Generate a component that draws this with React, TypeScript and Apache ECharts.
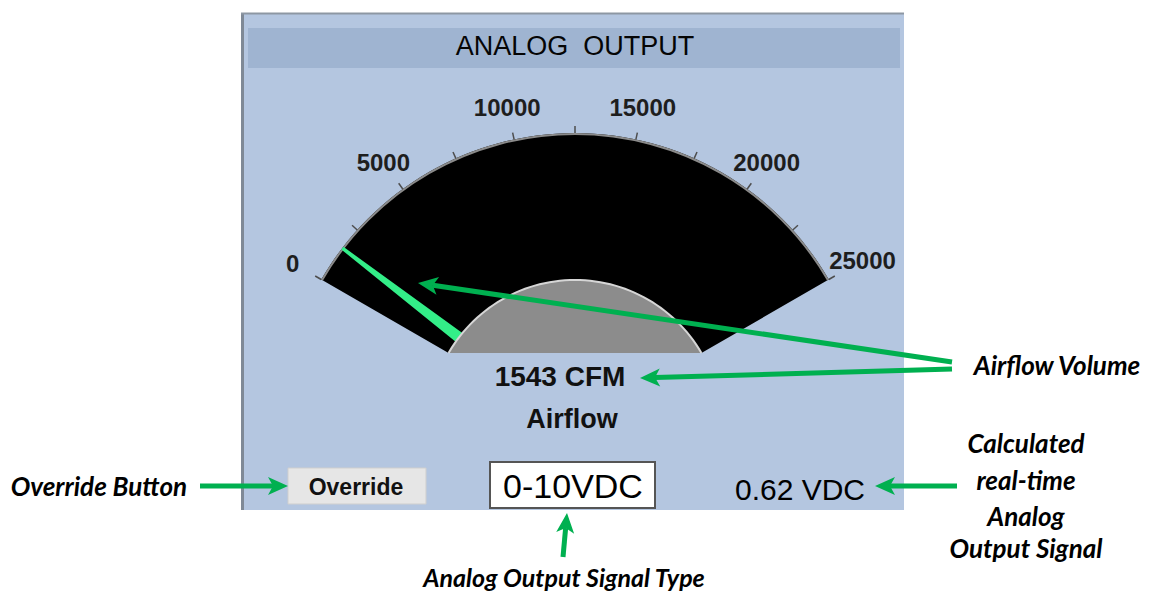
import React, { useEffect, useRef } from 'react';
import * as echarts from 'echarts';

// ---- data ----
const gaugeMin = 0;
const gaugeMax = 25000;
const tickStep = 2500;
const tickLabels = [0, 5000, 10000, 15000, 20000, 25000];
const airflowValue = 1543;
const airflowUnit = 'CFM';
const airflowName = 'Airflow';
const signalType = '0-10VDC';
const signalMaxVolts = 10;
const panelTitle = 'ANALOG  OUTPUT';
const buttonLabel = 'Override';
const calloutAirflow = 'Airflow Volume';
const calloutSignal = ['Calculated', 'real-time', 'Analog', 'Output Signal'];
const calloutButton = 'Override Button';
const calloutType = 'Analog Output Signal Type';

// ---- geometry / style ----
const CX = 575;
const CY = 426;
const R = 293;
const RIN = 146;
const START = 150;
const END = 30;
const GREEN = '#00b050';
const LABEL_FONT = 'Liberation Sans, Arial, sans-serif';
const CALLOUT_FONT = 'Lato, sans-serif';

function angleOf(v: number) {
  return START - ((START - END) * (v - gaugeMin)) / (gaugeMax - gaugeMin);
}
function polar(r: number, deg: number): [number, number] {
  const a = (deg * Math.PI) / 180;
  return [CX + r * Math.cos(a), CY - r * Math.sin(a)];
}

function arrow(x1: number, y1: number, x2: number, y2: number) {
  const dx = x2 - x1;
  const dy = y2 - y1;
  const len = Math.hypot(dx, dy);
  const ux = dx / len;
  const uy = dy / len;
  const px = -uy;
  const py = ux;
  const hl = 20;
  const hw = 9;
  const notch = 5;
  const bx = x2 - ux * hl;
  const by = y2 - uy * hl;
  const nx = x2 - ux * (hl - notch);
  const ny = y2 - uy * (hl - notch);
  return [
    {
      type: 'line',
      z: 100,
      shape: { x1, y1, x2: nx, y2: ny },
      style: { stroke: GREEN, lineWidth: 5 },
    },
    {
      type: 'polygon',
      z: 100,
      shape: {
        points: [
          [x2, y2],
          [bx + px * hw, by + py * hw],
          [nx, ny],
          [bx - px * hw, by - py * hw],
        ],
      },
      style: { fill: GREEN },
    },
  ];
}

function text(t: string, x: number, y: number, opts: any = {}) {
  return {
    type: 'text',
    z: opts.z ?? 50,
    style: {
      text: t,
      x,
      y,
      align: 'center',
      verticalAlign: 'middle',
      fill: opts.fill ?? '#111',
      fontSize: opts.fontSize ?? 22,
      fontWeight: opts.fontWeight ?? 'bold',
      fontStyle: opts.fontStyle ?? 'normal',
      fontFamily: opts.fontFamily ?? LABEL_FONT,
    },
  };
}

export default function App() {
  const ref = useRef<HTMLDivElement>(null);

  useEffect(() => {
    if (!ref.current) return;
    const chart = echarts.init(ref.current, undefined, { renderer: 'svg' });

    // gray hub segment (circle of radius RIN above chord between gauge ends)
    const hubPts: [number, number][] = [];
    for (let a = START; a >= END - 0.001; a -= 2) hubPts.push(polar(RIN, a));

    const labelEls = tickLabels.map((v) => {
      const [x, y] = polar(v === gaugeMax ? 332 : 326, angleOf(v));
      return text(String(v), x, y, { fontSize: 24, fill: '#1e1e1e', z: 40 });
    });

    const vdc = ((airflowValue - gaugeMin) / (gaugeMax - gaugeMin)) * signalMaxVolts;
    const callout = { fontSize: 26, fontStyle: 'italic', fontFamily: CALLOUT_FONT, fill: '#000' };

    const graphics: any[] = [
      // panel
      {
        type: 'rect',
        z: -10,
        shape: { x: 241, y: 13, width: 663, height: 497 },
        style: { fill: '#b4c6e0' },
      },
      {
        type: 'line',
        z: -9,
        shape: { x1: 242.5, y1: 13, x2: 242.5, y2: 510 },
        style: { stroke: '#7f8996', lineWidth: 3 },
      },
      {
        type: 'line',
        z: -9,
        shape: { x1: 241, y1: 13.5, x2: 904, y2: 13.5 },
        style: { stroke: '#8d97a3', lineWidth: 2 },
      },
      {
        type: 'rect',
        z: -8,
        shape: { x: 248, y: 28, width: 652, height: 40 },
        style: { fill: '#9fb4d1' },
      },
      text(panelTitle, 575, 46, { fontSize: 27, fontWeight: 'normal', fill: '#050505' }),
      // hub
      {
        type: 'polygon',
        z: 5,
        shape: { points: hubPts },
        style: { fill: '#8c8c8c' },
      },
      {
        type: 'polyline',
        z: 6,
        shape: { points: hubPts },
        style: { stroke: '#d6d6d6', lineWidth: 2, fill: null },
      },
      ...labelEls,
      // bottom controls
      {
        type: 'rect',
        z: 10,
        shape: { x: 288, y: 468, width: 138, height: 36 },
        style: { fill: '#e6e6e6', stroke: '#cfcfcf', lineWidth: 1 },
      },
      text(buttonLabel, 356, 487, { fontSize: 23, z: 11 }),
      {
        type: 'rect',
        z: 10,
        shape: { x: 490, y: 462, width: 165, height: 46 },
        style: { fill: '#ffffff', stroke: '#555555', lineWidth: 2 },
      },
      text(signalType, 573, 486, { fontSize: 34, fontWeight: 'normal', z: 11, fill: '#000' }),
      text(`${vdc.toFixed(2)} VDC`, 800, 489, { fontSize: 30, fontWeight: 'normal', z: 11, fill: '#000' }),
      // callouts
      text(calloutAirflow, 1057, 365, callout),
      text(calloutSignal[0], 1026, 443, callout),
      text(calloutSignal[1], 1026, 480, callout),
      text(calloutSignal[2], 1026, 516, callout),
      text(calloutSignal[3], 1026, 548, callout),
      text(calloutButton, 99, 486, callout),
      text(calloutType, 564, 577, { ...callout, fontSize: 25 }),
      ...arrow(952, 362, 418, 283),
      ...arrow(952, 369, 640, 378),
      ...arrow(200, 486, 288, 486),
      ...arrow(957, 486, 875, 486),
      ...arrow(563, 557, 567, 513),
    ];

    const splitNumber = (gaugeMax - gaugeMin) / tickStep;

    chart.setOption({
      animation: false,
      backgroundColor: '#ffffff',
      graphic: { elements: graphics },
      series: [
        {
          type: 'gauge',
          z: 2,
          center: [CX, CY],
          radius: R,
          startAngle: START,
          endAngle: END,
          min: gaugeMin,
          max: gaugeMax,
          axisLine: { show: true, roundCap: false, lineStyle: { width: R - RIN, color: [[1, '#000000']] } },
          axisTick: { show: false },
          splitLine: { show: false },
          axisLabel: { show: false },
          pointer: { show: false },
          anchor: { show: false },
          title: { show: false },
          detail: { show: false },
          data: [],
        },
        {
          type: 'gauge',
          z: 3,
          center: [CX, CY],
          radius: R,
          startAngle: START,
          endAngle: END,
          min: gaugeMin,
          max: gaugeMax,
          splitNumber,
          axisLine: { show: true, roundCap: false, lineStyle: { width: 2, color: [[1, '#8a8a8a']] } },
          axisTick: { show: false },
          splitLine: { show: true, length: 7, distance: -9, lineStyle: { color: '#4d4d4d', width: 1.5 } },
          axisLabel: { show: false },
          pointer: {
            show: true,
            icon: 'path://M3.8,0 L7.2,0 L11,50 L0,50 Z M5.5,100 L5.5,100.01',
            length: '100%',
            width: 11,
            offsetCenter: [0, 0],
            keepAspect: false,
            itemStyle: { color: '#33ee88' },
          },
          anchor: { show: false },
          title: {
            show: true,
            offsetCenter: [-3, -7],
            color: '#111111',
            fontSize: 27,
            fontWeight: 'bold',
            fontFamily: LABEL_FONT,
          },
          detail: {
            show: true,
            offsetCenter: [-15, -50],
            formatter: (v: number) => `${v} ${airflowUnit}`,
            color: '#111111',
            fontSize: 28,
            fontWeight: 'bold',
            fontFamily: LABEL_FONT,
            valueAnimation: false,
          },
          data: [{ value: airflowValue, name: airflowName }],
        },
      ],
    });

    return () => chart.dispose();
  }, []);

  return (
    <div
      ref={ref}
      style={{ position: 'fixed', left: 0, top: 0, width: 1149, height: 595, background: '#fff' }}
    />
  );
}
